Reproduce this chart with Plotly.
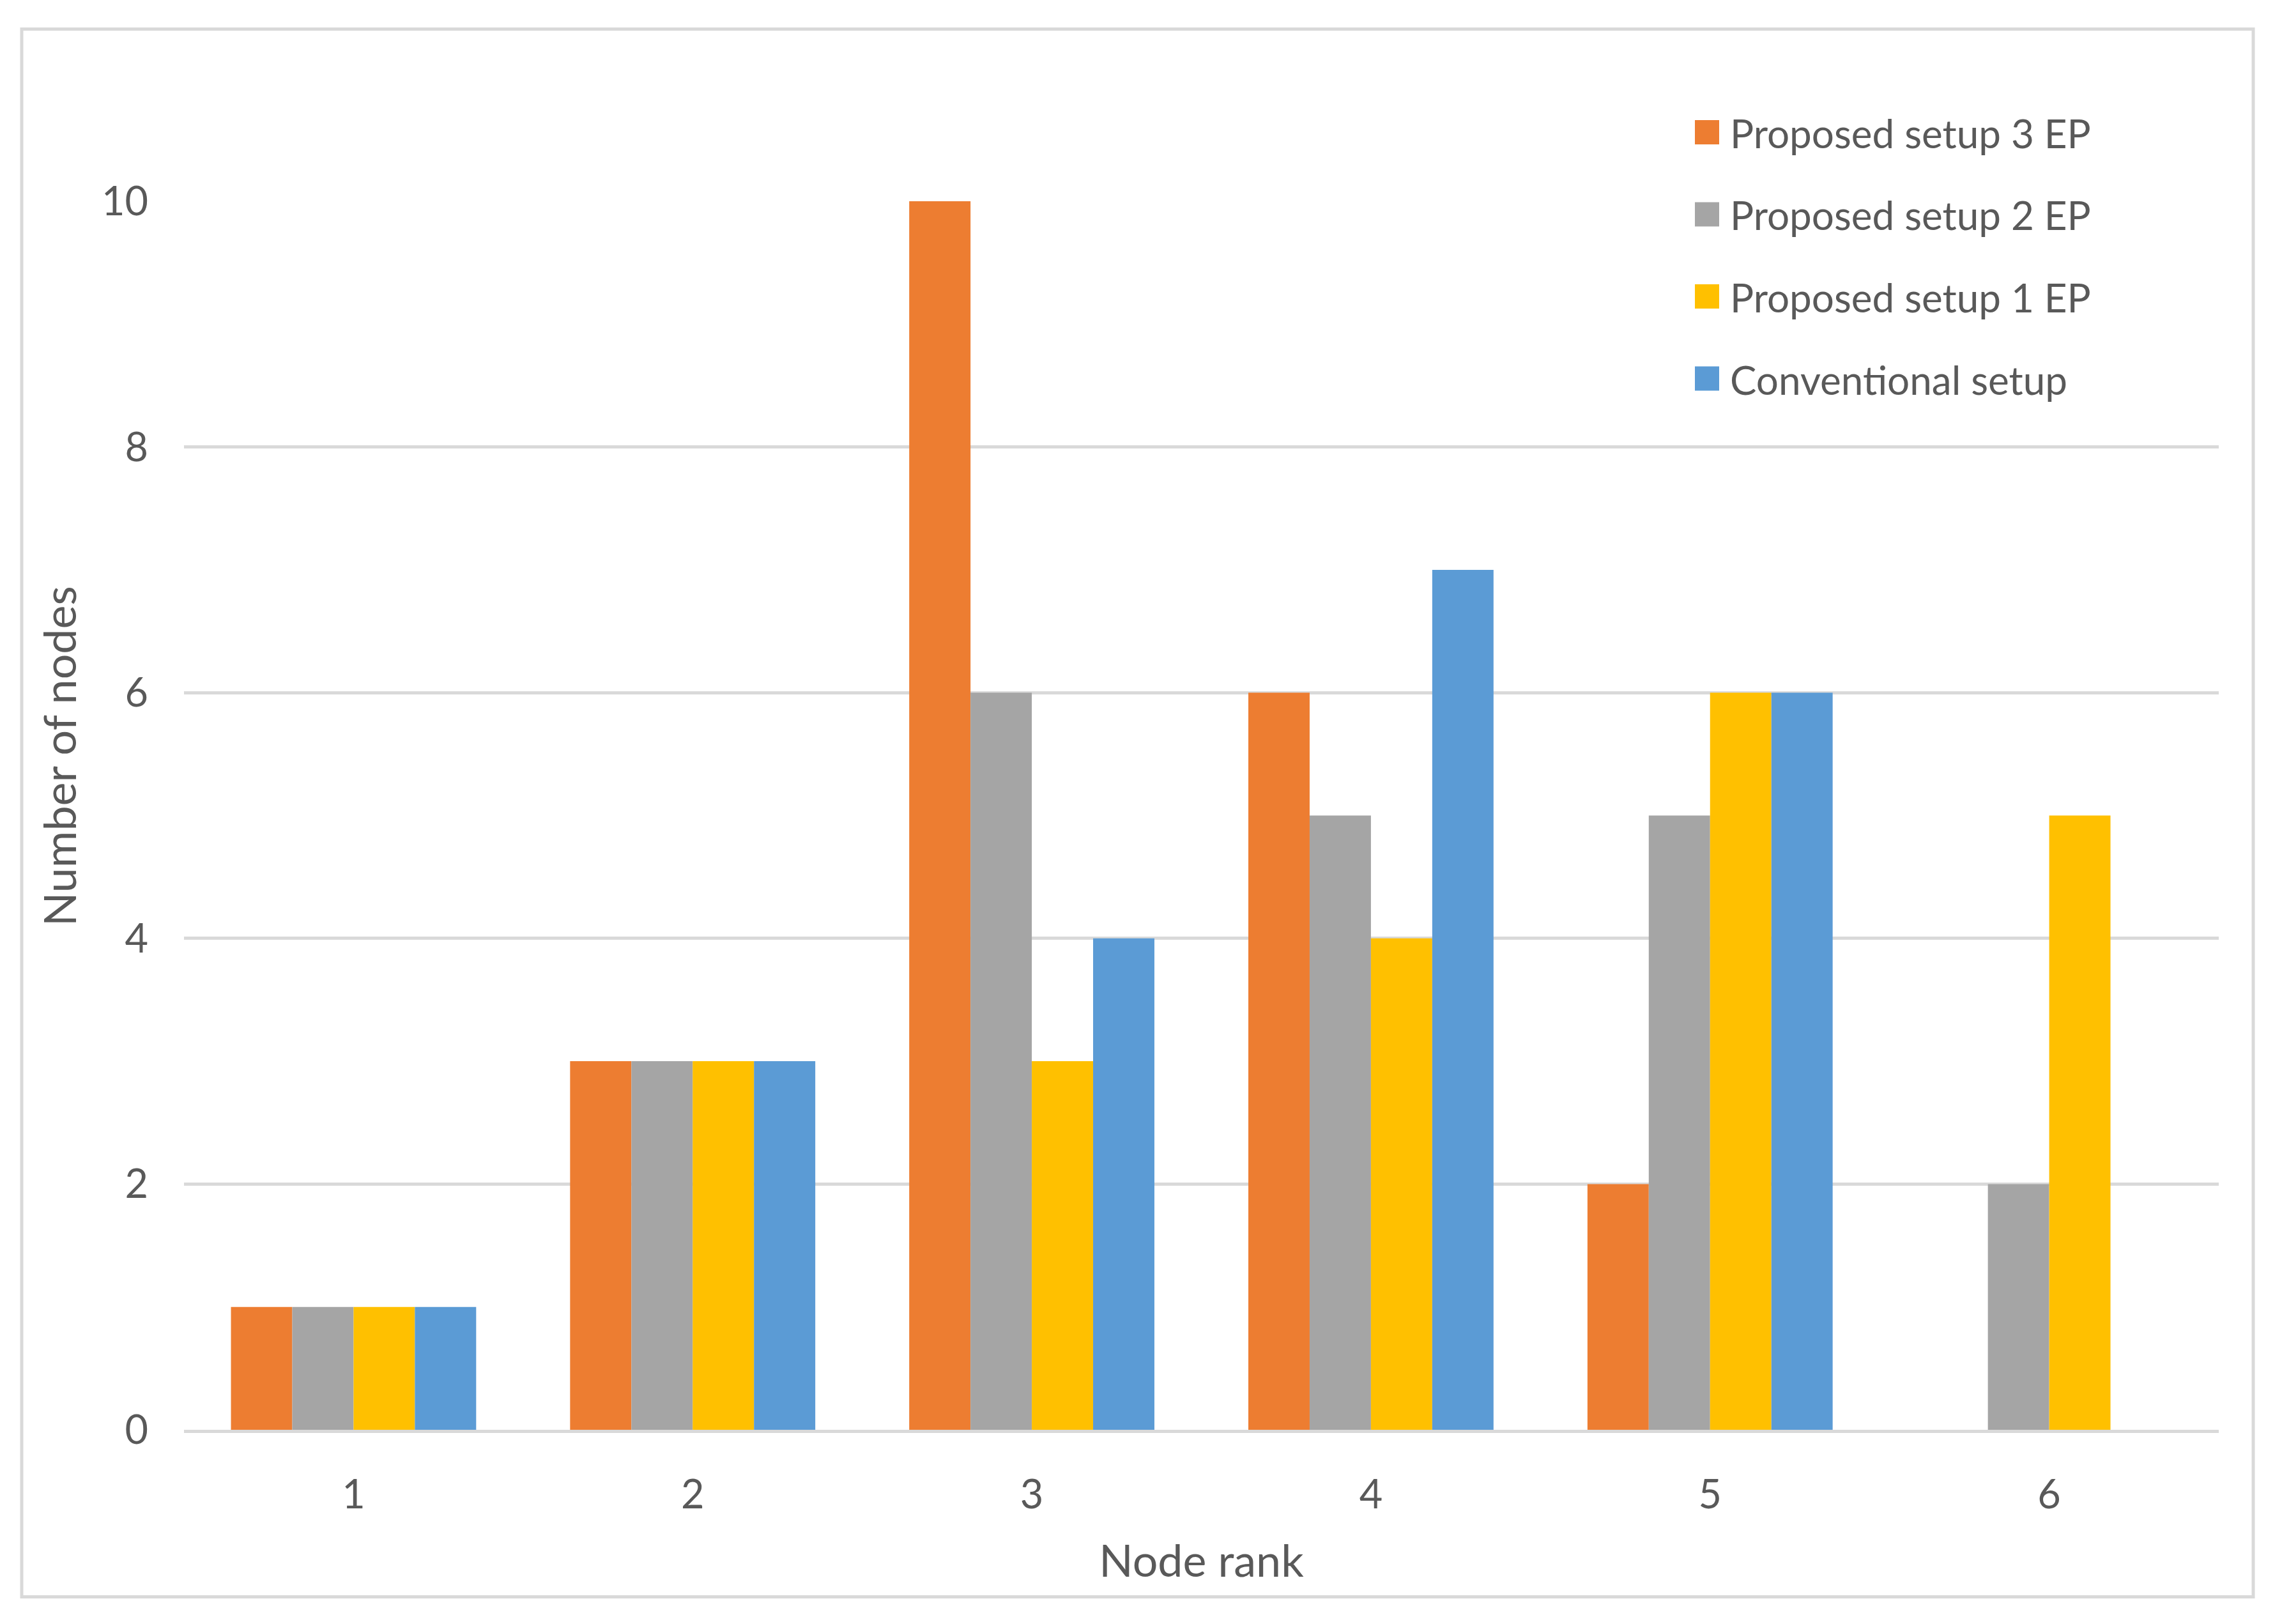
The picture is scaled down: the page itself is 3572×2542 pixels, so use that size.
import plotly.graph_objects as go

# ---------------- data ----------------
node_rank = ["1", "2", "3", "4", "5", "6"]
series_names = ["Proposed setup 3 EP", "Proposed setup 2 EP", "Proposed setup 1 EP", "Conventional setup"]
setup3_ep = [1, 3, 10, 6, 2, 0]
setup2_ep = [1, 3, 6, 5, 5, 2]
setup1_ep = [1, 3, 3, 4, 6, 5]
conventional = [1, 3, 4, 7, 6, 0]
y_ticks = [0, 2, 4, 6, 8, 10]
x_title = "Node rank"
y_title = "Number of nodes"

# ---------------- style ----------------
colors = ["#ED7D31", "#A5A5A5", "#FFC000", "#5B9BD5"]
TEXT = "#595959"
GRID = "#D9D9D9"
FONT = "Lato"

OFF = 8  # browser body margin
W, H = 3572 - OFF, 2542 - OFF
PL, PR, PT, PB = 288 - OFF, 3473 - OFF, 315 - OFF, 2238 - OFF  # plot-area pixel box


def xp(px):
    return (px - OFF - PL) / (PR - PL)


def yp(py):
    return (PB - (py - OFF)) / (PB - PT)


values = [setup3_ep, setup2_ep, setup1_ep, conventional]

fig = go.Figure()
for name, vals, col in zip(series_names, values, colors):
    fig.add_trace(go.Bar(x=node_rank, y=vals, name=name,
                         marker=dict(color=col, line=dict(width=0)),
                         showlegend=False))

shapes = []
annotations = []

# outer chart border
shapes.append(dict(type="rect", xref="paper", yref="paper",
                   x0=xp(34), x1=xp(3527), y0=yp(45.5), y1=yp(2499.5),
                   line=dict(color=GRID, width=5), fillcolor="rgba(0,0,0,0)",
                   layer="below"))

# legend background (covers top gridline like the original)
shapes.append(dict(type="rect", xref="paper", yref="paper",
                   x0=xp(2523), x1=xp(3408), y0=yp(150), y1=yp(650),
                   line=dict(width=0), fillcolor="white", layer="above"))

leg_y0, leg_dy = 207, 128.5
for i, (name, col) in enumerate(zip(series_names, colors)):
    cy = leg_y0 + i * leg_dy
    shapes.append(dict(type="rect", xref="paper", yref="paper",
                       x0=xp(2653), x1=xp(2691), y0=yp(cy - 19), y1=yp(cy + 19),
                       line=dict(width=0), fillcolor=col, layer="above"))
    annotations.append(dict(xref="paper", yref="paper", x=xp(2706), y=yp(cy + 1),
                            text=name, showarrow=False, xanchor="left", yanchor="middle",
                            font=dict(family=FONT, size=62, color=TEXT)))

# y-axis title
annotations.append(dict(xref="paper", yref="paper", x=xp(92), y=yp(1184),
                        text=y_title, showarrow=False, textangle=-90,
                        xanchor="center", yanchor="middle",
                        font=dict(family=FONT, size=70, color=TEXT)))

fig.update_layout(
    width=W, height=H,
    margin=dict(l=PL, r=W - PR, t=PT, b=H - PB, pad=0),
    paper_bgcolor="white", plot_bgcolor="white",
    barmode="group", bargap=0.277, bargroupgap=0,
    font=dict(family=FONT, color=TEXT),
    shapes=shapes, annotations=annotations,
    showlegend=False,
)

fig.update_xaxes(
    type="category",
    showgrid=False, zeroline=False,
    showline=True, linecolor=GRID, linewidth=5, layer="above traces",
    ticks="", ticklabelstandoff=42,
    tickfont=dict(family=FONT, size=63, color=TEXT),
    title=dict(text=x_title, font=dict(family=FONT, size=70, color=TEXT), standoff=48),
)
fig.update_yaxes(
    range=[0, 10], tickvals=y_ticks,
    showgrid=True, gridcolor=GRID, gridwidth=5,
    zeroline=False, showline=False,
    ticks="", ticklabelstandoff=55,
    tickfont=dict(family=FONT, size=63, color=TEXT),
)

fig.write_html("out.html")
